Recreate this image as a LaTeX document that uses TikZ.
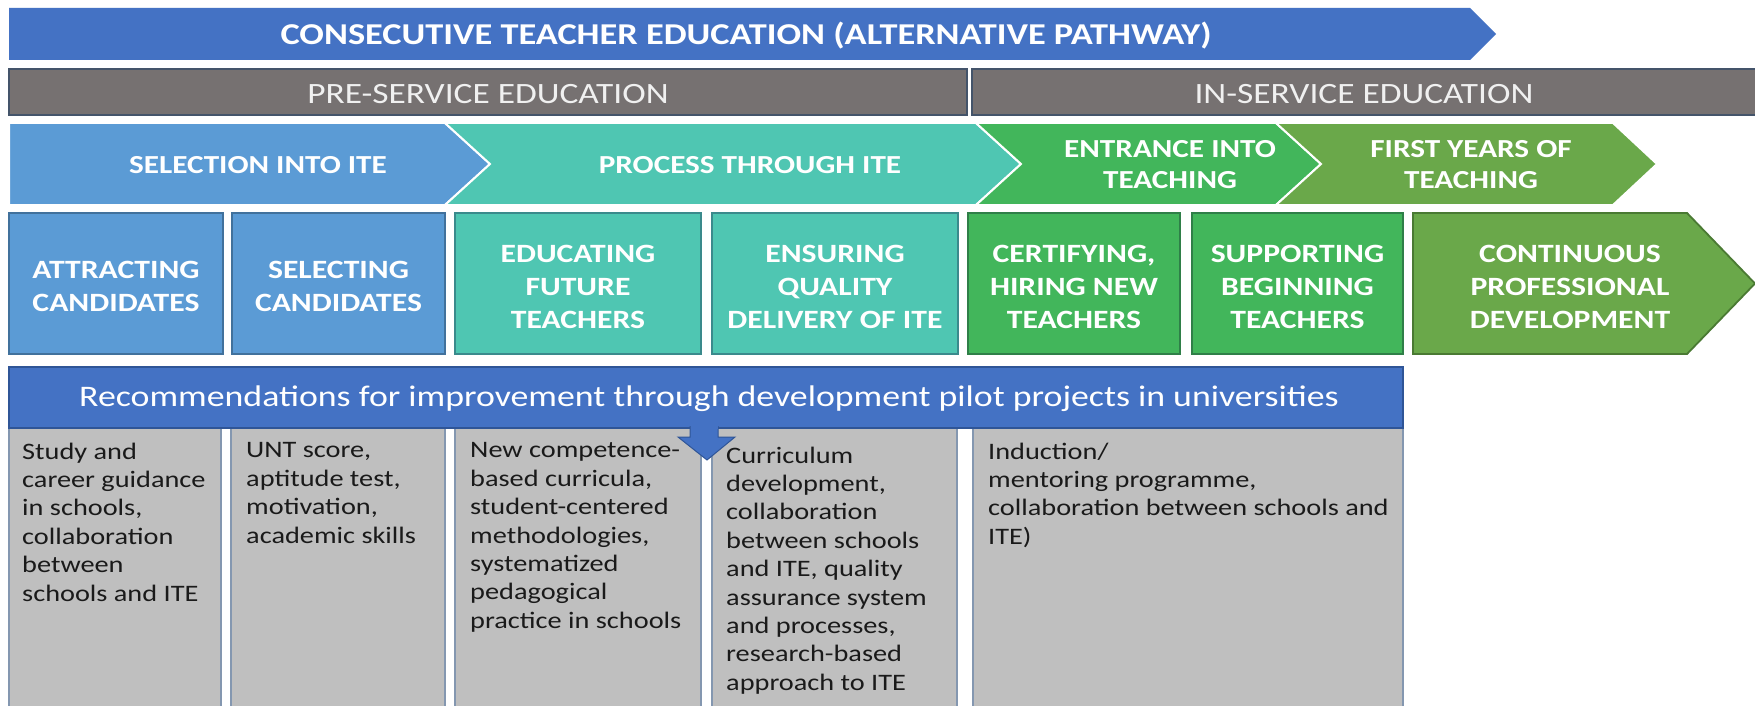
\documentclass[tikz,border=0pt]{standalone}
\usepackage{fontspec}
\setmainfont{Carlito}[FakeStretch=1.2]
\definecolor{bannerblue}{HTML}{4472C4}
\definecolor{bannerdark}{HTML}{2F5597}
\definecolor{barfill}{HTML}{767171}
\definecolor{bardraw}{HTML}{44546A}
\definecolor{bartext}{HTML}{F0F0F0}
\definecolor{cA}{HTML}{5B9BD5}
\definecolor{cAd}{HTML}{41719C}
\definecolor{cB}{HTML}{4FC6B2}
\definecolor{cBd}{HTML}{3A8A8C}
\definecolor{cC}{HTML}{42B65B}
\definecolor{cCd}{HTML}{2F7F48}
\definecolor{cD}{HTML}{6AA84A}
\definecolor{cDd}{HTML}{4A7A33}
\definecolor{colfill}{HTML}{BFBFBF}
\definecolor{coldraw}{HTML}{8497B0}
\definecolor{coltxt}{HTML}{1A1A1A}
\begin{document}
\begin{tikzpicture}[x=1bp,y=-1bp,
  chev/.style={draw=white,line width=2bp,line join=miter},
  boxA/.style={fill=cA,draw=cAd,line width=1.8bp},
  boxB/.style={fill=cB,draw=cBd,line width=1.8bp},
  boxC/.style={fill=cC,draw=cCd,line width=1.8bp},
  boxD/.style={fill=cD,draw=cDd,line width=1.8bp},
  graybar/.style={fill=barfill,draw=bardraw,line width=1.5bp},
  colbox/.style={fill=colfill,draw=coldraw,line width=1.2bp},
  bigtxt/.style={inner sep=0,text=white,font=\bfseries\fontsize{30.3bp}{36bp}\selectfont},
  bartxt/.style={inner sep=0,text=bartext,font=\fontsize{29.5bp}{35bp}\selectfont},
  hdrtxt/.style={inner sep=0,text=white,font=\fontsize{29.85bp}{35bp}\selectfont},
  lbl/.style={inner sep=0,text=white,align=center,font=\bfseries\fontsize{26bp}{31bp}\selectfont},
  boxlbl/.style={inner sep=0,text=white,align=center,font=\bfseries\fontsize{26.4bp}{33bp}\selectfont},
  coltext/.style={anchor=north west,inner sep=0,align=left,text=coltxt,font=\fontsize{23.6bp}{28.4bp}\selectfont}
]
\clip (0,0) rectangle (1755,706);
\fill[white] (0,0) rectangle (1755,706);
% banner
\fill[bannerblue] (9,8) -- (1470,8) -- (1496,34) -- (1470,60) -- (9,60) -- cycle;
\node[bigtxt] (banner) at (746,36) {CONSECUTIVE TEACHER EDUCATION (ALTERNATIVE PATHWAY)};
% gray bars
\draw[graybar] (9,69) rectangle (967,115);
\draw[graybar] (972,69) rectangle (1760,115);
\node[bartxt] (pre) at (488,94) {PRE-SERVICE EDUCATION};
\node[bartxt] (in) at (1364,94) {IN-SERVICE EDUCATION};
% chevrons
\draw[chev,fill=cA] (9,123) -- (445,123) -- (490,164) -- (445,205) -- (9,205) -- cycle;
\draw[chev,fill=cB] (445,123) -- (976,123) -- (1021,164) -- (976,205) -- (445,205) -- (490,164) -- cycle;
\draw[chev,fill=cC] (976,123) -- (1276,123) -- (1321,164) -- (1276,205) -- (976,205) -- (1021,164) -- cycle;
\draw[chev,fill=cD] (1276,123) -- (1613,123) -- (1657,164) -- (1613,205) -- (1276,205) -- (1321,164) -- cycle;
\node[lbl] (selection) at (258,165) {SELECTION INTO ITE};
\node[lbl] (process) at (750,165) {PROCESS THROUGH ITE};
\node[lbl] (entrance) at (1170,165) {ENTRANCE INTO\\TEACHING};
\node[lbl] (first) at (1471,165) {FIRST YEARS OF\\TEACHING};
% boxes
\draw[boxA] (9,213) rectangle (223,354);
\draw[boxA] (232,213) rectangle (445,354);
\draw[boxB] (455,213) rectangle (701,354);
\draw[boxB] (712,213) rectangle (958,354);
\draw[boxC] (968,213) rectangle (1180,354);
\draw[boxC] (1192,213) rectangle (1403,354);
\draw[boxD] (1413,213) -- (1687,213) -- (1755,283.5) -- (1687,354) -- (1413,354) -- cycle;
\node[boxlbl] (attract) at (116,286.5) {ATTRACTING\\CANDIDATES};
\node[boxlbl] (select) at (338.5,286.5) {SELECTING\\CANDIDATES};
\node[boxlbl] (educate) at (578,286.5) {EDUCATING\\FUTURE\\TEACHERS};
\node[boxlbl] (ensure) at (835,286.5) {ENSURING\\QUALITY\\DELIVERY OF ITE};
\node[boxlbl] (certify) at (1074,286.5) {CERTIFYING,\\HIRING NEW\\TEACHERS};
\node[boxlbl] (support) at (1297.5,286.5) {SUPPORTING\\BEGINNING\\TEACHERS};
\node[boxlbl] (cpd) at (1570,286.5) {CONTINUOUS\\PROFESSIONAL\\DEVELOPMENT};
% columns
\draw[colbox] (9,428) rectangle (221,712);
\draw[colbox] (231,428) rectangle (445,712);
\draw[colbox] (455,428) rectangle (701,712);
\draw[colbox] (712,428) rectangle (957,712);
\draw[colbox] (973,428) rectangle (1403,712);
% header
\draw[fill=bannerblue,draw=bannerdark,line width=1.5bp] (9,367) rectangle (1403,428);
\node[hdrtxt] (rec) at (709,399) {Recommendations for improvement through development pilot projects in universities};
% down arrow
\draw[fill=bannerblue,draw=bannerdark,line width=1bp,line join=miter]
  (690,426) -- (690,437) -- (678,437) -- (707,460) -- (735,437) -- (718,437) -- (718,426);
\fill[bannerblue] (690.5,424) rectangle (717.5,429);
% column texts
\node[coltext] (t1) at (22,442.5) {Study and\\career guidance\\in schools,\\collaboration\\between\\schools and ITE};
\node[coltext] (t2) at (246,442.5) {UNT score,\\aptitude test,\\motivation,\\academic skills};
\node[coltext] (t3) at (470,442.5) {New competence-\\based curricula,\\student-centered\\methodologies,\\systematized\\pedagogical\\practice in schools};
\node[coltext] (t4) at (726,446.5) {Curriculum\\development,\\collaboration\\between schools\\and ITE, quality\\assurance system\\and processes,\\research-based\\approach to ITE};
\node[coltext] (t5) at (988,442.5) {Induction/\\mentoring programme,\\collaboration between schools and\\ITE)};
\end{tikzpicture}
\end{document}
